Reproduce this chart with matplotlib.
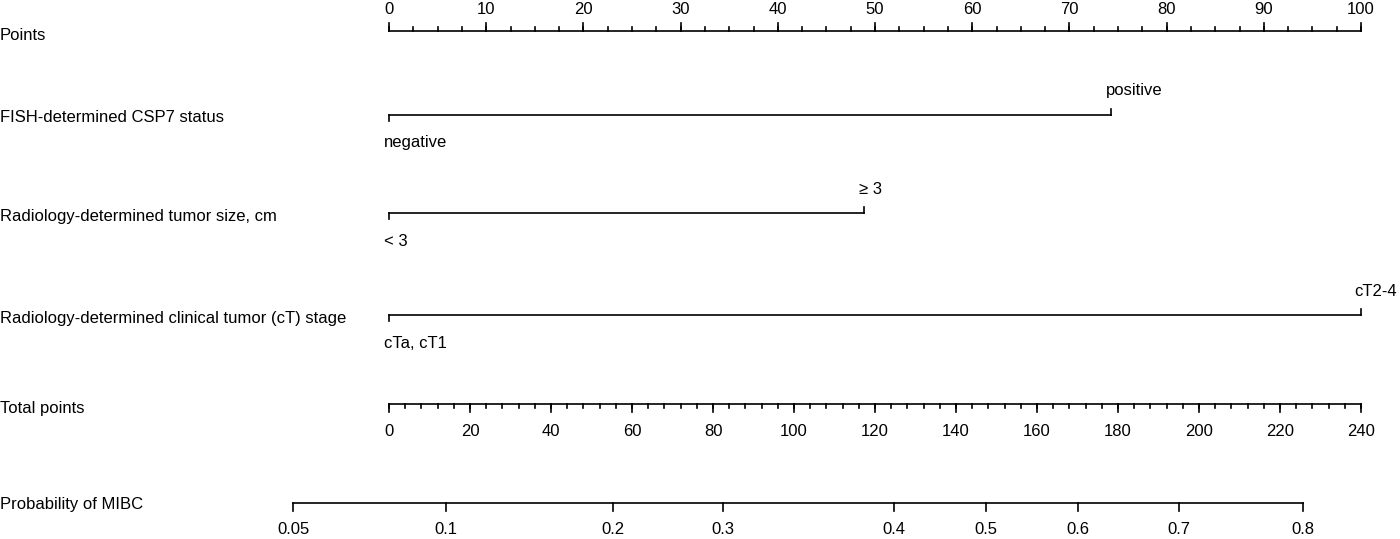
"""
Nomogram: probability of MIBC
"""
import numpy as np
import matplotlib.pyplot as plt

plt.rcParams['font.family'] = ['Liberation Sans', 'DejaVu Sans']

# points scale
points_major = np.arange(0, 101, 10)
points_minor = np.arange(0, 100.1, 2.5)

# predictors
var_names = ["FISH-determined CSP7 status",
             "Radiology-determined tumor size, cm",
             "Radiology-determined clinical tumor (cT) stage"]
level_low = ["negative", "< 3", "cTa, cT1"]
level_high = ["positive", "\u2265 3", "cT2-4"]
level_high_points = [74.3, 48.9, 100.0]

# total points scale
total_max = 240
total_major = np.arange(0, 241, 20)
total_minor = np.arange(0, 241, 4)

# probability scale (position given in total points)
prob_labels = ["0.05", "0.1", "0.2", "0.3", "0.4", "0.5", "0.6", "0.7", "0.8"]
prob_total_points = [-23.7, 14.1, 55.3, 82.5, 124.7, 147.4, 170.1, 195.1, 225.7]

# layout (pixel rows)
W, H = 1400, 539
x0_px, x100_px = 389, 1361
ppx = (x100_px - x0_px) / 100.0       # pixels per point
row_points, row_vars, row_total, row_prob = 31, [115, 213, 315], 404, 503

fig = plt.figure(figsize=(14, 5.39), dpi=100)
ax = fig.add_axes([0, 0, 1, 1])
ax.set_xlim(-x0_px / ppx, (W - x0_px) / ppx)
ax.set_ylim(H, 0)
ax.axis('off')

lw = 1.2
fs = 12
lab_x = -x0_px / ppx
px = 1 / ppx   # one pixel in x units


def tot2pts(t):
    return np.asarray(t) * 100.0 / total_max


# Points axis
ax.text(lab_x, row_points + 4, "Points", fontsize=fs, va='center', ha='left')
ax.plot([0, 100], [row_points, row_points], color='black', lw=lw)
for v in points_minor:
    ax.plot([v, v], [row_points, row_points - 4], color='black', lw=lw)
for v in points_major:
    ax.plot([v, v], [row_points, row_points - 8], color='black', lw=lw)
    ax.text(v, row_points - 22, str(v), fontsize=fs, ha='center', va='center')

# predictors
for name, lo, hi, p, y in zip(var_names, level_low, level_high, level_high_points, row_vars):
    ax.text(lab_x, y + 3, name, fontsize=fs, va='center', ha='left')
    ax.plot([0, p], [y, y], color='black', lw=lw)
    ax.plot([0, 0], [y, y + 6], color='black', lw=lw)
    ax.plot([p, p], [y, y - 6], color='black', lw=lw)
    ax.text(0 - 5 * px, y + 28, lo, fontsize=fs, ha='left', va='center')
    if p >= 100:
        ax.text((W - 3 - x0_px) / ppx, y - 24, hi, fontsize=fs, ha='right', va='center')
    else:
        ax.text(p - 5 * px, y - 24, hi, fontsize=fs, ha='left', va='center')

# Total points axis
ax.text(lab_x, row_total + 4, "Total points", fontsize=fs, va='center', ha='left')
ax.plot([0, 100], [row_total, row_total], color='black', lw=lw)
for v in tot2pts(total_minor):
    ax.plot([v, v], [row_total, row_total + 4], color='black', lw=lw)
for t, v in zip(total_major, tot2pts(total_major)):
    ax.plot([v, v], [row_total, row_total + 8], color='black', lw=lw)
    ax.text(v, row_total + 28, str(t), fontsize=fs, ha='center', va='center')

# Probability axis
pp = tot2pts(prob_total_points)
ax.text(lab_x, row_prob + 2, "Probability of MIBC", fontsize=fs, va='center', ha='left')
ax.plot([pp[0], pp[-1]], [row_prob, row_prob], color='black', lw=lw)
for lab, v in zip(prob_labels, pp):
    ax.plot([v, v], [row_prob, row_prob + 8], color='black', lw=lw)
    ax.text(v, row_prob + 27, lab, fontsize=fs, ha='center', va='center')

fig.savefig("out.png", dpi=100)
